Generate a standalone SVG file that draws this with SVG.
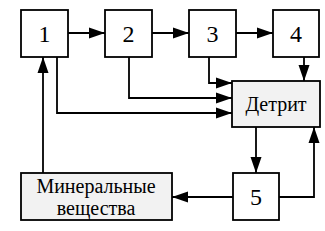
<svg xmlns="http://www.w3.org/2000/svg" width="325" height="231" viewBox="0 0 325 231">
<style>
.box{fill:#fff;stroke:#000;stroke-width:1.8}
.gray{fill:#f2f2f2;stroke:#000;stroke-width:1.8}
text{font-family:'Liberation Serif','Times New Roman','DejaVu Serif',serif;text-anchor:middle;fill:#000}
.num{font-size:24px}
.lbl{font-size:20px}
.c{fill:none;stroke:#000;stroke-width:1.8}
</style>
<defs>
<marker id="ah" markerUnits="userSpaceOnUse" markerWidth="16" markerHeight="12" refX="16" refY="6" orient="auto">
<path d="M0,0.5 L16,6 L0,11.5 Z" fill="#000"/>
</marker>
</defs>
<g id="connectors">
<path class="c" d="M68,33 H105" marker-end="url(#ah)"/>
<path class="c" d="M152,33 H189" marker-end="url(#ah)"/>
<path class="c" d="M236,33 H273" marker-end="url(#ah)"/>
<path class="c" d="M304,57 V81" marker-end="url(#ah)"/>
<path class="c" d="M209,57 V83 H232" marker-end="url(#ah)"/>
<path class="c" d="M129,57 V98 H232" marker-end="url(#ah)"/>
<path class="c" d="M57,57 V113 H232" marker-end="url(#ah)"/>
<path class="c" d="M256,127 V173" marker-end="url(#ah)"/>
<path class="c" d="M279,197 H314 V127" marker-end="url(#ah)"/>
<path class="c" d="M233,197 H172" marker-end="url(#ah)"/>
<path class="c" d="M43,173 V57" marker-end="url(#ah)"/>
</g>
<g id="n1"><rect class="box" x="21" y="10" width="47" height="47"/><text class="num" x="44.5" y="41.5">1</text></g>
<g id="n2"><rect class="box" x="105" y="10" width="47" height="47"/><text class="num" x="128.5" y="41.5">2</text></g>
<g id="n3"><rect class="box" x="189" y="10" width="47" height="47"/><text class="num" x="212.5" y="41.5">3</text></g>
<g id="n4"><rect class="box" x="273" y="10" width="46" height="47"/><text class="num" x="296" y="41.5">4</text></g>
<g id="detrit"><rect class="gray" x="232" y="81" width="88" height="46"/><text class="lbl" x="276" y="111">Детрит</text></g>
<g id="n5"><rect class="box" x="233" y="173" width="46" height="47"/><text class="num" x="256" y="204.5">5</text></g>
<g id="mineral"><rect class="gray" x="21" y="173" width="151" height="47"/><text class="lbl" x="96" y="193">Минеральные</text><text class="lbl" x="96" y="215">вещества</text></g>
</svg>
